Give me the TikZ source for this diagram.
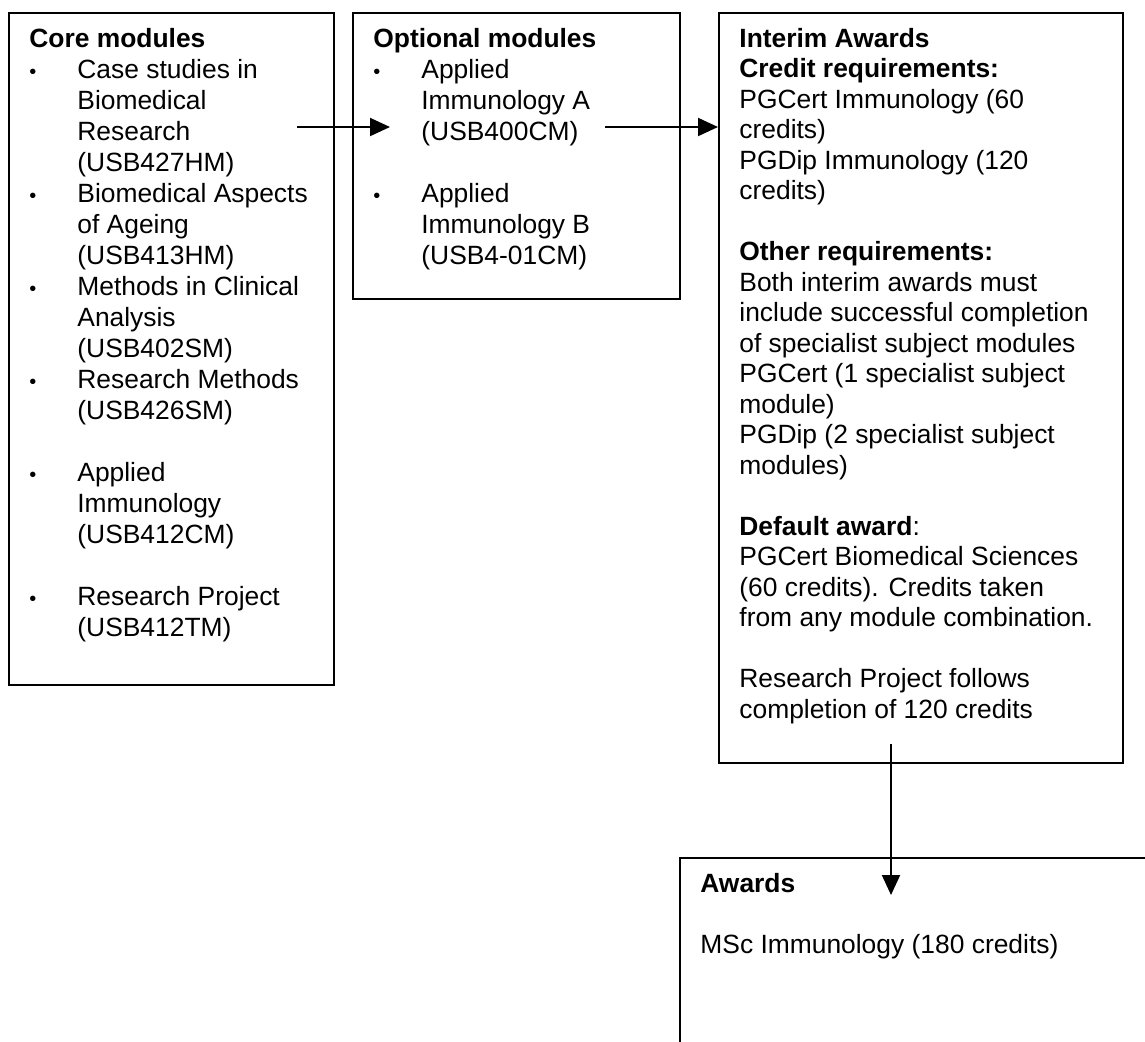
\documentclass[tikz,border=0pt]{standalone}
\usepackage{fontspec}
\setmainfont{Liberation Sans}
\usetikzlibrary{arrows.meta}
\newcommand{\modbullet}{\makebox[24pt][l]{\fontsize{10}{10}\selectfont\textbullet}}
\newcommand{\modindent}{\hspace*{24pt}}
\newcommand{\firstline}{\rule{0pt}{11pt}}

\begin{document}
\begin{tikzpicture}[x=0.5pt,y=0.5pt,
    box/.style={shape=rectangle,
      draw=black,
      line width=1pt,
      inner sep=0pt,
      anchor=north west},
    boxtext/.style={anchor=north west,
      align=left,
      inner sep=0pt,
      font=\fontsize{13.2}{15.5}\selectfont},
    flow/.style={-{Triangle[length=10pt,width=9pt]},line width=1pt,draw=black}]
      \useasboundingbox (0,0) rectangle (1145,-1041);
      \clip (0,0) rectangle (1145,-1041);
      %\draw[help lines,step=50] (0,0) grid (1145,-1041); % Only for Development

      \node[box,
        minimum width = 162.5pt,
        minimum height = 336pt] (core) at (8,-12) {};
      \node[box,
        minimum width = 163.5pt,
        minimum height = 143pt] (optional) at (352,-12) {};
      \node[box,
        minimum width = 202pt,
        minimum height = 375pt] (interim) at (718,-12) {};
      \node[box,
        minimum width = 240pt,
        minimum height = 110pt] (awards) at (679,-857) {};

      \node[boxtext] (core text) at ([shift={(21,-13)}]core.north west) {%
        \firstline\textbf{Core modules}\\
        \modbullet Case studies in\\ \modindent Biomedical\\ \modindent Research\\ \modindent (USB427HM)\\
        \modbullet Biomedical Aspects\\ \modindent of Ageing\\ \modindent (USB413HM)\\
        \modbullet Methods in Clinical\\ \modindent Analysis\\ \modindent (USB402SM)\\
        \modbullet Research Methods\\ \modindent (USB426SM)\\[15.5pt]
        \modbullet Applied\\ \modindent Immunology\\ \modindent (USB412CM)\\[15.5pt]
        \modbullet Research Project\\ \modindent (USB412TM)};

      \node[boxtext] (optional text) at ([shift={(21,-13)}]optional.north west) {%
        \firstline\textbf{Optional modules}\\
        \modbullet Applied\\ \modindent Immunology A\\ \modindent (USB400CM)\\[15.5pt]
        \modbullet Applied\\ \modindent Immunology B\\ \modindent (USB4-01CM)};

      \node[boxtext,
        font=\fontsize{13.2}{15.25}\selectfont] (interim text) at ([shift={(21,-13)}]interim.north west) {%
        \firstline\textbf{Interim Awards}\\
        \textbf{Credit requirements:}\\
        PGCert Immunology (60\\ credits)\\
        PGDip Immunology (120\\ credits)\\[15.25pt]
        \textbf{Other requirements:}\\
        Both interim awards must\\ include successful completion\\ of specialist subject modules\\
        PGCert (1 specialist subject\\ module)\\
        PGDip (2 specialist subject\\ modules)\\[15.25pt]
        \textbf{Default award}:\\
        PGCert Biomedical Sciences\\ (60 credits). Credits taken\\ from any module combination.\\[15.25pt]
        Research Project follows\\ completion of 120 credits};

      \node[boxtext,
        font=\fontsize{13.2}{15.25}\selectfont] (awards text) at ([shift={(21,-13)}]awards.north west) {%
        \firstline\textbf{Awards}\\[15.25pt]
        MSc Immunology (180 credits)};

      \coordinate (core out) at ([shift={(-38,-115)}]core.north east);
      \coordinate (optional in) at ([shift={(38,-115)}]optional.north west);
      \coordinate (optional out) at ([shift={(-76,-115)}]optional.north east);
      \coordinate (interim out) at ([shift={(173,20)}]interim.south west);
      \coordinate (awards in) at ([shift={(0,-38)}]interim out |- awards.north);

      \draw[flow] (core out) -- (optional in);
      \draw[flow] (optional out) -- (optional out -| interim.west);
      \draw[flow] (interim out) -- (awards in);
    \end{tikzpicture}
\end{document}
